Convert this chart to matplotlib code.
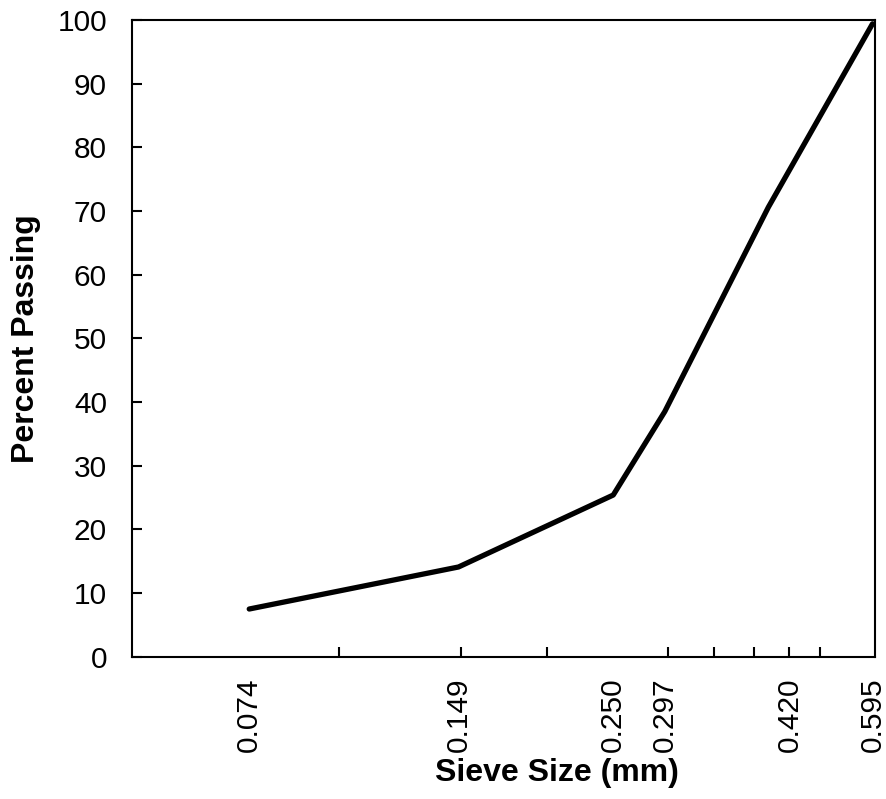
import numpy as np
import matplotlib.pyplot as plt
from matplotlib.ticker import FixedLocator, NullFormatter
import matplotlib.transforms as mtransforms

plt.rcParams["font.family"] = ["Liberation Sans", "DejaVu Sans"]

# sieve data
sieve_mm = [0.074, 0.149, 0.250, 0.297, 0.420, 0.595]
percent_passing = [7.5, 14.1, 25.4, 38.5, 70.6, 99.4]
sieve_labels = ["0.074", "0.149", "0.250", "0.297", "0.420", "0.595"]
minor_ticks = [0.10, 0.15, 0.20, 0.25, 0.30, 0.35, 0.40, 0.45, 0.50]

fig = plt.figure(figsize=(8.86, 7.99), dpi=100)
ax = fig.add_axes([0.149, 0.178, 0.8386, 0.797])

ax.plot(sieve_mm, percent_passing, color="black", linewidth=3.8,
        solid_joinstyle="round", solid_capstyle="round", clip_on=False)

ax.set_xscale("log")
ax.set_xlim(0.05, 0.6)
ax.set_ylim(0, 100)

# labels at sieve sizes, tick marks on a regular grid
ax.xaxis.set_major_locator(FixedLocator(sieve_mm))
ax.set_xticklabels(sieve_labels, rotation=90)
ax.xaxis.set_minor_locator(FixedLocator(minor_ticks))
ax.xaxis.set_minor_formatter(NullFormatter())
ax.tick_params(axis="x", which="major", length=0, pad=15, labelsize=21.5)
ax.tick_params(axis="x", which="minor", direction="in", length=7, width=1.5)

ax.set_yticks(np.arange(0, 101, 10))
ax.tick_params(axis="y", direction="in", length=7, width=1.5, labelsize=21.5, pad=18)

# 0.420 label sits a little to the right in the original
lbl = ax.get_xticklabels()[4]
lbl.set_transform(lbl.get_transform() + mtransforms.ScaledTranslation(0.22, 0, fig.dpi_scale_trans))

for s in ax.spines.values():
    s.set_linewidth(1.5)

ax.set_xlabel("Sieve Size (mm)", fontsize=23, fontweight="bold", labelpad=4, x=0.572)
ax.set_ylabel("Percent Passing", fontsize=23, fontweight="bold", labelpad=12)

fig.savefig("out.png", dpi=100)
